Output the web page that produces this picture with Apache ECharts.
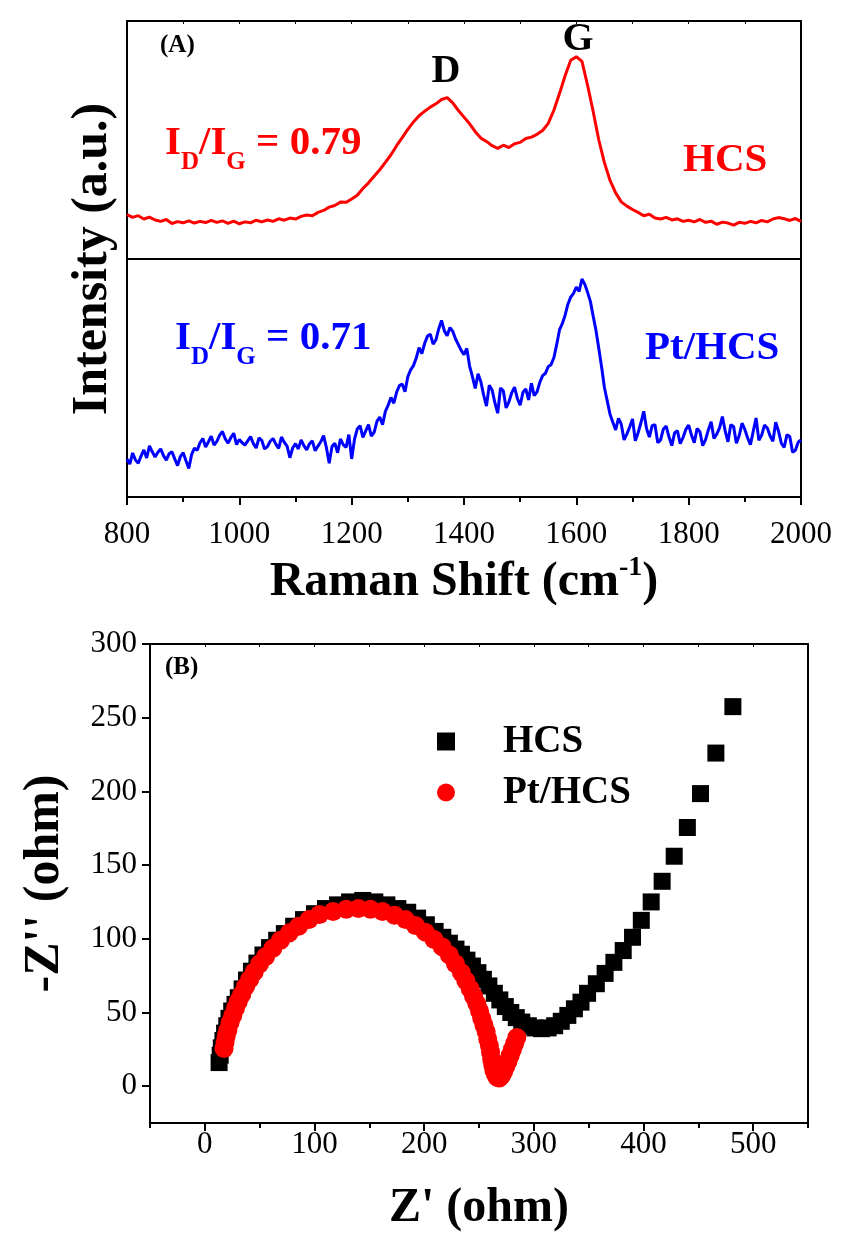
<!DOCTYPE html>
<html><head><meta charset="utf-8">
<script src="https://cdn.jsdelivr.net/npm/echarts@6/dist/echarts.min.js"></script>
<style>html,body{margin:0;padding:0;background:#fff}#c{width:841px;height:1241px}</style>
</head><body><div id="c"></div>
<script>
// ---------- DATA ----------
const ramanShiftHcs = [800,810,820,830,840,850,860,870,880,890,900,910,920,930,940,950,960,970,980,990,
1000,1010,1020,1030,1040,1050,1060,1070,1080,1090,1100,1110,1120,1130,1140,1150,1160,1170,1180,1190,
1200,1210,1220,1230,1240,1250,1260,1270,1280,1290,1300,1310,1320,1330,1340,1350,1360,1370,1380,1390,
1400,1410,1420,1430,1440,1450,1460,1470,1480,1490,1500,1510,1520,1530,1540,1550,1560,1570,1580,1590,
1600,1610,1620,1630,1640,1650,1660,1670,1680,1690,1700,1710,1720,1730,1740,1750,1760,1770,1780,1790,
1800,1810,1820,1830,1840,1850,1860,1870,1880,1890,1900,1910,1920,1930,1940,1950,1960,1970,1980,1990,2000];
const hcsRaman = [18.6,17.5,18.2,16.8,17.6,16.4,15.8,16.6,14.9,15.7,15.2,16.0,15.1,15.8,15.3,16.2,15.4,16.0,15.0,15.9,
14.8,15.6,15.2,16.3,15.6,16.4,15.8,16.9,16.3,17.2,16.8,17.9,18.5,18.2,19.6,20.4,21.8,22.5,23.9,23.8,
25.2,26.8,29.6,32.0,34.8,37.5,40.6,43.8,47.6,51.0,54.5,57.6,60.2,62.1,63.8,65.2,67.0,67.8,65.6,62.4,
59.6,56.8,53.5,50.8,49.4,47.6,46.5,47.8,46.8,48.4,49.0,50.6,51.2,52.4,54.0,57.0,62.5,69.5,77.0,83.5,
85.0,83.0,73.0,62.0,50.0,40.5,33.0,27.8,24.0,22.2,20.8,19.6,18.2,18.8,17.2,16.8,17.5,16.4,16.9,15.8,
16.3,15.6,16.6,15.4,15.9,14.6,15.5,15.1,14.2,15.4,15.0,15.8,15.2,16.2,15.6,16.8,17.4,16.9,16.2,17.0,15.8];
const ramanShiftPt = [800,805,810,815,820,825,830,835,840,845,850,855,860,865,870,875,880,885,890,895,
900,905,910,915,920,925,930,935,940,945,950,955,960,965,970,975,980,985,990,995,
1000,1005,1010,1015,1020,1025,1030,1035,1040,1045,1050,1055,1060,1065,1070,1075,1080,1085,1090,1095,
1100,1105,1110,1115,1120,1125,1130,1135,1140,1145,1150,1155,1160,1165,1170,1175,1180,1185,1190,1195,
1200,1205,1210,1215,1220,1225,1230,1235,1240,1245,1250,1255,1260,1265,1270,1275,1280,1285,1290,1295,
1300,1305,1310,1315,1320,1325,1330,1335,1340,1345,1350,1355,1360,1365,1370,1375,1380,1385,1390,1395,
1400,1405,1410,1415,1420,1425,1430,1435,1440,1445,1450,1455,1460,1465,1470,1475,1480,1485,1490,1495,
1500,1505,1510,1515,1520,1525,1530,1535,1540,1545,1550,1555,1560,1565,1570,1575,1580,1585,1590,1595,
1600,1605,1610,1615,1620,1625,1630,1635,1640,1645,1650,1655,1660,1665,1670,1675,1680,1685,1690,1695,
1700,1705,1710,1715,1720,1725,1730,1735,1740,1745,1750,1755,1760,1765,1770,1775,1780,1785,1790,1795,
1800,1805,1810,1815,1820,1825,1830,1835,1840,1845,1850,1855,1860,1865,1870,1875,1880,1885,1890,1895,
1900,1905,1910,1915,1920,1925,1930,1935,1940,1945,1950,1955,1960,1965,1970,1975,1980,1985,1990,1995,2000];
const ptHcsRaman = [16.0,13.8,18.5,15.6,14.2,17.2,19.8,16.4,21.5,19.0,16.8,18.8,20.2,17.4,15.5,18.2,19.0,16.0,13.2,17.0,
18.6,15.2,12.0,17.8,20.5,19.6,22.8,24.6,21.0,23.2,25.6,21.8,23.4,26.0,27.5,24.4,22.6,25.0,26.8,22.0,
24.2,22.8,21.8,23.6,25.4,22.4,20.6,24.8,23.8,20.2,21.2,23.4,24.6,22.2,20.4,25.2,23.0,21.4,16.5,20.6,
22.4,20.2,24.0,21.6,19.8,22.4,23.6,19.4,21.4,23.2,25.8,20.8,14.2,21.2,22.6,18.6,24.4,22.0,20.8,26.2,
16.0,24.2,28.6,30.0,25.0,27.8,30.4,25.6,27.2,31.8,33.6,30.4,36.0,38.6,41.8,39.4,44.0,46.8,47.5,44.2,
50.6,53.4,55.2,58.4,62.8,60.2,64.6,67.6,68.4,64.2,66.0,70.6,74.2,69.8,67.8,71.2,69.6,66.4,64.0,61.6,
59.8,62.4,55.0,50.6,45.6,51.8,48.4,42.8,38.2,47.0,45.0,39.6,35.2,45.8,44.6,37.4,40.0,43.8,46.2,41.4,
38.6,44.0,45.4,40.8,47.8,42.6,44.2,48.2,51.0,52.0,54.8,55.6,58.5,64.0,70.2,72.8,76.4,81.0,84.0,85.6,
88.2,86.4,91.6,89.4,86.0,82.2,76.0,70.0,62.4,54.6,46.0,40.4,34.8,31.4,28.2,33.0,30.6,24.0,26.4,29.4,
32.8,23.6,27.0,31.2,36.0,28.8,25.2,30.0,30.4,22.8,24.0,28.6,29.8,25.2,21.6,27.0,27.8,22.4,25.0,28.4,
30.2,26.0,22.8,28.8,27.4,21.6,24.0,28.2,31.6,24.6,26.4,29.0,33.8,27.8,23.2,30.4,29.6,22.6,25.8,31.0,
28.4,24.8,22.0,27.6,33.2,23.8,26.0,30.2,29.0,25.6,23.4,31.4,27.6,22.6,20.8,26.2,25.4,18.8,19.6,23.0,24.0];
const ramanTicks = [800,1000,1200,1400,1600,1800,2000];

const hcsZre = [13,14,15,16.5,18,20,22,24.5,27.5,30.5,34,38,42.5,47.5,53,59,65.5,72.5,81,90,100,110,121,132,144,155,166,176,185,194,202,210,217,223,229,234,239,244,249,254,259,264,269,274,279,284,289,295,301,307,313,319,325,331,337,343,349,357,365,373,381.5,390,398,407,417,428,440,452,466,481.5];
const hcsZim = [16,21,26,31,36,41,46,51,55.5,60,66,72,78,83.5,89,94,99,103.5,108.5,113,117,120.5,123,125,126,125,123,120.5,118,114,109.5,105,101,97,93,89.5,85.5,81.5,77,72.5,68,63,58.5,54,50,46.5,43.5,41,39.5,39,39.5,41,44,48,52.5,57,63,69.5,76.5,84,92,101,112.5,125,139,156,175.5,198.5,226,257.5];
const ptZre = [17.5,18.5,19.5,21,23,25.5,28,30.5,33.5,37,41,45,50,55.5,62,69,77,85.5,95,104.5,117,129,140,151,162,173,183,192,201,209,216.5,223,228.5,234,238,242,245,248,250.5,252.5,254.5,256.5,258,259.5,260.5,261.5,262.5,263.5,265,266.5,268.5,270.5,272.5,274.5,276.5,278.5,280.5,282.5,284.5];
const ptZim = [25.5,30,34,38,43,48,53,57.5,62,67.5,72.5,77.5,83,88,93.5,99,104,108.5,113,116.5,118.5,120,120.5,120,118.5,116,113,109,104.5,99.5,94.5,89,83,77,71.5,66,61,56,51,46,41.5,37,32,27.5,23,18.5,14.5,11,8,6,5.5,7,10,13.5,17,21,25,29,33];
const zReTicks = [0,100,200,300,400,500];
const zReMinorTicks = [-50,50,150,250,350,450,550];
const zReTopTicks = [-50,0,50,100,150,200,250,300,350,400,450,500,550];
const zImTicks = [0,50,100,150,200,250,300];

// ---------- CHART ----------
const FF = "'Liberation Serif','Times New Roman',serif";
const zip = (a,b) => a.map((v,i)=>[v,b[i]]);
const chart = echarts.init(document.getElementById('c'), null, {renderer:'canvas'});
const box = {show:true, borderColor:'#000', borderWidth:2, backgroundColor:'transparent', containLabel:false};
const hidY = {type:'value', min:0, max:100, show:false};
const lineStyleAx = {color:'#000', width:2};
const plain = v => String(v);

chart.setOption({
  animation:false,
  backgroundColor:'#fff',
  grid:[
    Object.assign({left:127, top:21, width:674, height:238}, box),
    Object.assign({left:127, top:259, width:674, height:238}, box),
    Object.assign({left:150, top:644, width:658, height:479}, box)
  ],
  xAxis:[
    {type:'value', gridIndex:0, position:'top', min:800, max:2000, interval:100,
     axisLine:{show:true, onZero:false, lineStyle:lineStyleAx}, axisTick:{show:true, inside:true, length:3, lineStyle:{color:'#000',width:1}},
     axisLabel:{show:false}, splitLine:{show:false}},
    {type:'value', gridIndex:1, position:'bottom', min:800, max:2000, interval:200,
     axisLine:{show:true, onZero:false, lineStyle:lineStyleAx},
     axisTick:{show:true, inside:false, length:8, lineStyle:{color:'#000',width:2}},
     minorTick:{show:true, splitNumber:2, length:5, lineStyle:{color:'#000',width:2}},
     axisLabel:{show:true, customValues:ramanTicks, formatter:plain, color:'#000', fontFamily:FF, fontSize:31, margin:22},
     splitLine:{show:false}, minorSplitLine:{show:false},
     name:'{m|Raman Shift (cm}{s|-1}{m|)}', nameLocation:'middle', nameGap:57,
     nameTextStyle:{rich:{m:{fontFamily:FF, fontSize:48, fontWeight:'bold', color:'#000'},
                          s:{fontFamily:FF, fontSize:28, fontWeight:'bold', color:'#000', padding:[0,0,30,0]}}}},
    {type:'value', gridIndex:2, position:'bottom', min:-50, max:550,
     axisLine:{show:true, onZero:false, lineStyle:lineStyleAx},
     axisTick:{show:true, inside:false, length:8, customValues:zReTicks, lineStyle:{color:'#000',width:2}},
     axisLabel:{show:true, customValues:zReTicks, formatter:plain, color:'#000', fontFamily:FF, fontSize:31, margin:6},
     splitLine:{show:false},
     name:"Z' (ohm)", nameLocation:'middle', nameGap:62,
     nameTextStyle:{fontFamily:FF, fontSize:48, fontWeight:'bold', color:'#000'}},
    {type:'value', gridIndex:2, position:'bottom', min:-50, max:550,
     axisLine:{show:false, onZero:false},
     axisTick:{show:true, inside:false, length:5, customValues:zReMinorTicks, lineStyle:{color:'#000',width:2}},
     axisLabel:{show:false}, splitLine:{show:false}},
    {type:'value', gridIndex:2, position:'top', min:-50, max:550,
     axisLine:{show:true, onZero:false, lineStyle:lineStyleAx},
     axisTick:{show:true, inside:true, length:3, customValues:zReTopTicks, lineStyle:{color:'#000',width:1}},
     axisLabel:{show:false}, splitLine:{show:false}}
  ],
  yAxis:[
    Object.assign({gridIndex:0}, hidY),
    Object.assign({gridIndex:1}, hidY),
    {type:'value', gridIndex:2, min:-25, max:300,
     axisLine:{show:true, onZero:false, lineStyle:lineStyleAx},
     axisTick:{show:true, inside:false, length:8, customValues:zImTicks, lineStyle:{color:'#000',width:2}},
     axisLabel:{show:true, customValues:zImTicks, formatter:plain, color:'#000', fontFamily:FF, fontSize:31, margin:13},
     splitLine:{show:false},
     name:"-Z'' (ohm)", nameLocation:'middle', nameGap:80,
     nameTextStyle:{fontFamily:FF, fontSize:50, fontWeight:'bold', color:'#000'}}
  ],
  legend:{
    orient:'vertical', left:432, top:717, itemGap:12, itemWidth:18, itemHeight:18,
    data:['HCS','Pt/HCS'],
    formatter: n => '{t|' + n + '}',
    textStyle:{rich:{t:{fontFamily:FF, fontSize:39, fontWeight:'bold', color:'#000', padding:[0,0,0,43]}}}
  },
  series:[
    {type:'line', name:'HCS Raman', xAxisIndex:0, yAxisIndex:0, data:zip(ramanShiftHcs,hcsRaman),
     symbol:'none', lineStyle:{color:'#ff0000', width:3}, itemStyle:{color:'#ff0000'}},
    {type:'line', name:'Pt/HCS Raman', xAxisIndex:1, yAxisIndex:1, data:zip(ramanShiftPt,ptHcsRaman),
     symbol:'none', lineStyle:{color:'#0000ff', width:3}, itemStyle:{color:'#0000ff'}},
    {type:'scatter', name:'HCS', xAxisIndex:2, yAxisIndex:2, data:zip(hcsZre,hcsZim),
     symbol:'rect', symbolSize:17, itemStyle:{color:'#000', opacity:1}},
    {type:'scatter', name:'Pt/HCS', xAxisIndex:2, yAxisIndex:2, data:zip(ptZre,ptZim),
     symbol:'circle', symbolSize:19, itemStyle:{color:'#ff0000', opacity:1}}
  ],
  graphic:[
    {type:'text', x:160, y:46, style:{text:'(A)', font:"bold 25px "+FF, fill:'#000', align:'left', verticalAlign:'middle', textAlign:'left', textVerticalAlign:'middle'}},
    {type:'text', x:446, y:72, style:{text:'D', font:"bold 40px "+FF, fill:'#000', align:'center', verticalAlign:'middle', textAlign:'center', textVerticalAlign:'middle'}},
    {type:'text', x:578, y:40, style:{text:'G', font:"bold 40px "+FF, fill:'#000', align:'center', verticalAlign:'middle', textAlign:'center', textVerticalAlign:'middle'}},
    {type:'text', x:165, y:143, style:{text:'{m|I}{s|D}{m|/I}{s|G}{m| = 0.79}', align:'left', verticalAlign:'middle', textAlign:'left', textVerticalAlign:'middle',
      rich:{m:{fontFamily:FF, fontSize:41, fontWeight:'bold', fill:'#ff0000', color:'#ff0000'}, s:{fontFamily:FF, fontSize:25, fontWeight:'bold', fill:'#ff0000', color:'#ff0000', padding:[40,0,0,0]}}}},
    {type:'text', x:683, y:160, style:{text:'HCS', font:"bold 41px "+FF, fill:'#ff0000', align:'left', verticalAlign:'middle', textAlign:'left', textVerticalAlign:'middle'}},
    {type:'text', x:175, y:338, style:{text:'{m|I}{s|D}{m|/I}{s|G}{m| = 0.71}', align:'left', verticalAlign:'middle', textAlign:'left', textVerticalAlign:'middle',
      rich:{m:{fontFamily:FF, fontSize:41, fontWeight:'bold', fill:'#0000ff', color:'#0000ff'}, s:{fontFamily:FF, fontSize:25, fontWeight:'bold', fill:'#0000ff', color:'#0000ff', padding:[40,0,0,0]}}}},
    {type:'text', x:645, y:348, style:{text:'Pt/HCS', font:"bold 41px "+FF, fill:'#0000ff', align:'left', verticalAlign:'middle', textAlign:'left', textVerticalAlign:'middle'}},
    {type:'text', x:93, y:259, rotation:Math.PI/2, style:{text:'Intensity (a.u.)', font:"bold 50px "+FF, fill:'#000', align:'center', verticalAlign:'middle', textAlign:'center', textVerticalAlign:'middle'}},
    {type:'text', x:165, y:668, style:{text:'(B)', font:"bold 25px "+FF, fill:'#000', align:'left', verticalAlign:'middle', textAlign:'left', textVerticalAlign:'middle'}}
  ]
});
</script></body></html>
